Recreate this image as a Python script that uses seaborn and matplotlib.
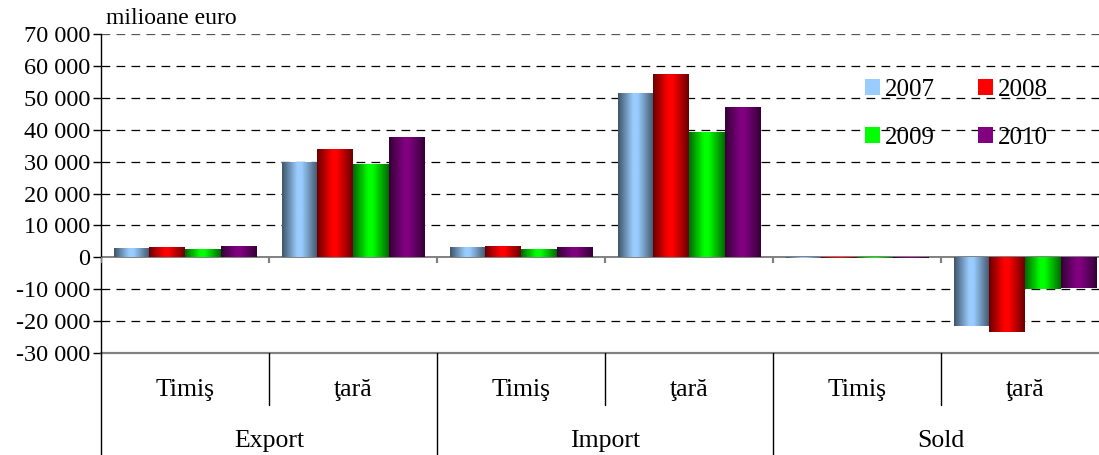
import numpy as np
import pandas as pd
import seaborn as sns
import matplotlib.pyplot as plt
from matplotlib.colors import LinearSegmentedColormap, to_rgb
from matplotlib.patches import Patch
from matplotlib.ticker import FuncFormatter
import matplotlib.transforms as mtransforms

# data (milioane euro)
flows = ['Export', 'Export', 'Import', 'Import', 'Sold', 'Sold']
areas = ['Timiş', 'ţară', 'Timiş', 'ţară', 'Timiş', 'ţară']
years = ['2007', '2008', '2009', '2010']
v2007 = [2800, 29700, 3000, 51300, -250, -21600]
v2008 = [3100, 33700, 3300, 57200, -250, -23400]
v2009 = [2500, 29100, 2300, 39000, -100, -10000]
v2010 = [3400, 37500, 2900, 47000, -100, -9700]
colors = ['#99CCFF', '#FF0000', '#00FF00', '#800080']

slots = [f'{f} {a}' for f, a in zip(flows, areas)]
rows = []
for yr, vals in zip(years, [v2007, v2008, v2009, v2010]):
    for s, v in zip(slots, vals):
        rows.append({'slot': s, 'year': yr, 'value': v})
df = pd.DataFrame(rows)

sns.set_style('white')
plt.rcParams['font.family'] = ['Liberation Serif', 'DejaVu Serif']
plt.rcParams['text.color'] = 'black'
plt.rcParams['ytick.labelcolor'] = 'black'

fig = plt.figure(figsize=(10.99, 4.55), dpi=100)
ax = fig.add_axes([101 / 1099, 102 / 455, 1008 / 1099, 319 / 455])

sns.barplot(data=df, x='slot', y='value', hue='year', order=slots, hue_order=years,
            palette=colors, width=0.85, ax=ax, legend=False, saturation=1)

# cylinder-like shading on every bar
for patch in list(ax.patches):
    x0, y0 = patch.get_x(), patch.get_y()
    w, h = patch.get_width(), patch.get_height()
    if w == 0 or h == 0:
        continue
    base = np.array(to_rgb(patch.get_facecolor()))
    dark = base * 0.42
    cmap = LinearSegmentedColormap.from_list('g', [(0, dark), (0.42, base), (0.55, base), (1, dark)])
    grad = np.linspace(0, 1, 64).reshape(1, -1)
    ax.imshow(grad, cmap=cmap, extent=[x0, x0 + w, min(y0, y0 + h), max(y0, y0 + h)],
              aspect='auto', zorder=3, interpolation='bilinear')

ax.set_xlim(-0.5, 5.5)
ax.set_ylim(-30000, 70000)
ax.set_yticks(range(-30000, 70001, 10000))
ax.yaxis.set_major_formatter(FuncFormatter(lambda v, p: f'{int(v):,}'.replace(',', ' ')))
ax.tick_params(axis='y', left=True, length=6, width=1, labelsize=17.5, pad=2, color='black')
ax.set_xticks([])
ax.set_xlabel('')
ax.set_ylabel('')

for sp in ['top', 'right', 'bottom']:
    ax.spines[sp].set_visible(False)
ax.spines['left'].set_color('black')
ax.spines['left'].set_linewidth(1)

# dashed gridlines
for yv in range(-20000, 70001, 10000):
    if yv == 0:
        continue
    ax.axhline(yv, color='black' if yv < 70000 else '#555555', lw=0.9,
               linestyle=(0, (7, 5)), zorder=1)
ax.axhline(0, color='#808080', lw=1.4, zorder=2)
ax.axhline(-30000, color='#808080', lw=1.6, zorder=1, clip_on=False)
ax.vlines(np.arange(-0.5, 6, 1), -1900, 0, color='#808080', lw=1.6, zorder=4)

# two-level category table under the plot
tr = mtransforms.blended_transform_factory(ax.transData, ax.transAxes)
for i, a in enumerate(areas):
    ax.text(i, -0.115, a, transform=tr, ha='center', va='center', fontsize=18.5)
for x in [0.5, 2.5, 4.5]:
    ax.plot([x, x], [0, -0.163], transform=tr, color='black', lw=1, clip_on=False)
for x in [-0.5, 1.5, 3.5, 5.5]:
    ax.plot([x, x], [0, -0.33], transform=tr, color='black', lw=1, clip_on=False)
for i, f in enumerate(['Export', 'Import', 'Sold']):
    ax.text(2 * i + 0.5, -0.275, f, transform=tr, ha='center', va='center', fontsize=18.5)

fig.text(106 / 1099, 1 - 18 / 455, 'milioane euro', ha='left', va='center', fontsize=17)

# legend filled column-wise, so order gives rows 2007/2008 and 2009/2010
order = [0, 2, 1, 3]
handles = [Patch(facecolor=colors[i], edgecolor='none') for i in order]
labels = [years[i] for i in order]
ax.legend(handles, labels, ncol=2, loc='upper left', frameon=False,
          bbox_to_anchor=(852 / 1099, 1 - 66 / 455), bbox_transform=fig.transFigure,
          fontsize=18, handlelength=0.62, handleheight=0.62, handletextpad=0.2,
          columnspacing=1.7, labelspacing=1.05, borderpad=0)

fig.savefig('out.png', dpi=100)
